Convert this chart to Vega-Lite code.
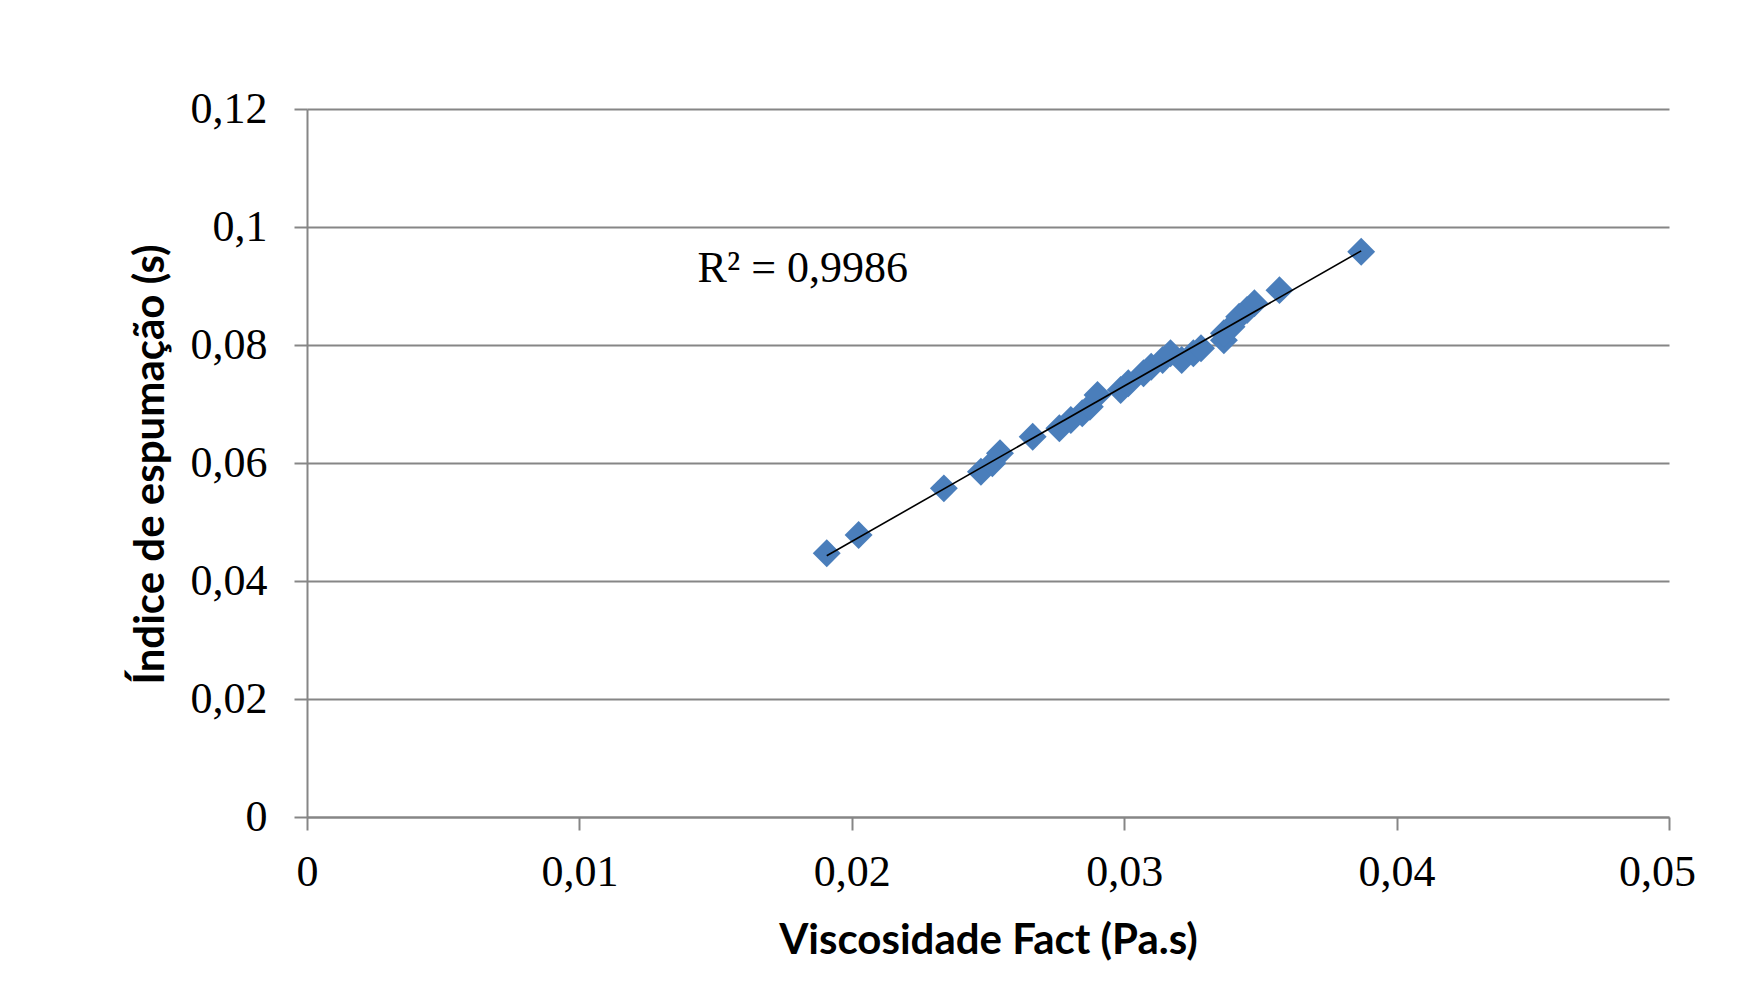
{
  "$schema": "https://vega.github.io/schema/vega-lite/v6.json",
  "autosize": "none",
  "width": 1362,
  "height": 708,
  "padding": {"left": 307, "top": 109, "right": 69, "bottom": 183},
  "background": "white",
  "config": {
    "view": {"stroke": null},
    "axis": {
      "labelFont": "Liberation Serif",
      "labelFontSize": 44,
      "labelColor": "#000000",
      "labelFlush": false,
      "titleFont": "Lato",
      "titleFontWeight": "bold",
      "titleFontSize": 42,
      "titleColor": "#000000",
      "domainColor": "#868686",
      "domainWidth": 2,
      "tickColor": "#868686",
      "tickWidth": 2,
      "tickSize": 13,
      "gridColor": "#868686",
      "gridWidth": 2
    }
  },
  "datasets": {
    "pts": [
      {"visc": 0.01908, "idx": 0.04469},
      {"visc": 0.02025, "idx": 0.0478},
      {"visc": 0.02338, "idx": 0.0557},
      {"visc": 0.02474, "idx": 0.05853},
      {"visc": 0.02516, "idx": 0.05994},
      {"visc": 0.02544, "idx": 0.06164},
      {"visc": 0.02664, "idx": 0.06446},
      {"visc": 0.02762, "idx": 0.06588},
      {"visc": 0.02804, "idx": 0.06729},
      {"visc": 0.02846, "idx": 0.06842},
      {"visc": 0.02874, "idx": 0.06954},
      {"visc": 0.02902, "idx": 0.07153},
      {"visc": 0.02987, "idx": 0.07237},
      {"visc": 0.03015, "idx": 0.07351},
      {"visc": 0.03071, "idx": 0.0752},
      {"visc": 0.03099, "idx": 0.07632},
      {"visc": 0.03141, "idx": 0.07746},
      {"visc": 0.0317, "idx": 0.07859},
      {"visc": 0.03211, "idx": 0.07746},
      {"visc": 0.03254, "idx": 0.07859},
      {"visc": 0.03282, "idx": 0.07944},
      {"visc": 0.03366, "idx": 0.0808},
      {"visc": 0.03366, "idx": 0.08198},
      {"visc": 0.03394, "idx": 0.0831},
      {"visc": 0.03422, "idx": 0.0848},
      {"visc": 0.03451, "idx": 0.08593},
      {"visc": 0.03478, "idx": 0.08707},
      {"visc": 0.0357, "idx": 0.0893},
      {"visc": 0.0387, "idx": 0.0958}
    ],
    "ann": [
      {"visc": 0.0182, "idx": 0.0929, "label": "R² = 0,9986"}
    ]
  },
  "layer": [
    {
      "data": {"name": "pts"},
      "mark": {"type": "point", "shape": "diamond", "filled": true, "color": "#4a7ebb", "opacity": 1, "size": 780},
      "encoding": {
        "x": {
          "field": "visc", "type": "quantitative",
          "scale": {"domain": [0, 0.05], "nice": false},
          "axis": {
            "values": [0, 0.01, 0.02, 0.03, 0.04, 0.05],
            "grid": false,
            "title": "Viscosidade Fact (Pa.s)",
            "labelExpr": "replace(format(datum.value, '~g'), '.', ',')",
            "labelPadding": 20,
            "labelBaseline": "top",
            "labelOffset": {"condition": {"test": "datum.value == 0.05", "value": -12}, "value": 0},
            "titleY": 136,
            "titleBaseline": "alphabetic"
          }
        },
        "y": {
          "field": "idx", "type": "quantitative",
          "scale": {"domain": [0, 0.12], "nice": false},
          "axis": {
            "values": [0, 0.02, 0.04, 0.06, 0.08, 0.1, 0.12],
            "grid": true,
            "title": "Índice de espumação (s)",
            "labelExpr": "replace(format(datum.value, '~g'), '.', ',')",
            "labelPadding": 27,
            "titleX": -144,
            "titleY": 355,
            "titleAngle": -90,
            "titleAlign": "center",
            "titleBaseline": "alphabetic"
          }
        }
      }
    },
    {
      "data": {"name": "pts"},
      "transform": [{"regression": "idx", "on": "visc"}],
      "mark": {"type": "line", "color": "#000000", "strokeWidth": 1.6},
      "encoding": {
        "x": {"field": "visc", "type": "quantitative"},
        "y": {"field": "idx", "type": "quantitative"}
      }
    },
    {
      "data": {"name": "ann"},
      "mark": {"type": "text", "font": "Liberation Serif", "fontSize": 44, "color": "#000000", "align": "center", "baseline": "middle"},
      "encoding": {
        "x": {"field": "visc", "type": "quantitative"},
        "y": {"field": "idx", "type": "quantitative"},
        "text": {"field": "label"}
      }
    }
  ]
}
